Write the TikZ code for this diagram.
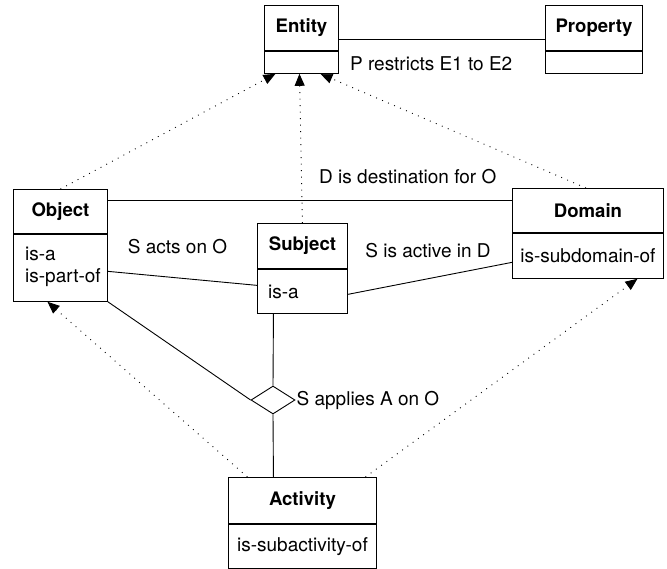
\documentclass[tikz,border=0pt]{standalone}
\usepackage{fontspec}
\setmainfont{TeX Gyre Heros}
\usetikzlibrary{arrows.meta,shapes.geometric}
\begin{document}
\begin{tikzpicture}[x=1pt,y=-1pt,
  font=\fontsize{19}{22}\selectfont,
  lw/.style={line width=0.9pt},
  titlepart/.style={draw, lw, inner sep=0pt, anchor=north west, minimum width=#1, font=\fontsize{18.6}{22}\selectfont\bfseries},
  attrpart/.style={draw, lw, anchor=north west, inner ysep=0pt, inner xsep=0pt, text width=#1, align=center},
  attrtext/.style={inner sep=0pt, anchor=north west, align=left},
  assoc/.style={lw},
  inherit/.style={lw, dash pattern=on 0.9pt off 5.6pt, -{Triangle[length=12pt,width=10pt]}},
  caption/.style={inner sep=0pt}
]
\useasboundingbox (0,0) rectangle (667,568);

% classes: title compartment + attribute compartment
\node[titlepart=74pt, minimum height=45pt] (entT) at (264,5) {Entity};
\node[attrpart=74pt, minimum height=22pt] (entA) at (entT.south west) {};

\node[titlepart=97pt, minimum height=45pt] (propT) at (545,5) {Property};
\node[attrpart=97pt, minimum height=22pt] (propA) at (propT.south west) {};

\node[titlepart=94pt, minimum height=44pt] (objT) at (13,189) {Object};
\node[attrpart=94pt, minimum height=67pt] (objA) at (objT.south west) {};
\node[attrtext] (objAttr) at ([xshift=12pt, yshift=-13pt]objA.north west) {is-a\\is-part-of};

\node[titlepart=90pt, minimum height=45pt] (subT) at (257,223) {Subject};
\node[attrpart=90pt, minimum height=44pt] (subA) at (subT.south west) {};
\node[attrtext, anchor=west] (subAttr) at ([xshift=11pt, yshift=-1pt]subA.west) {is-a};

\node[titlepart=151pt, minimum height=44pt] (domT) at (512,188) {Domain};
\node[attrpart=151pt, minimum height=45pt] (domA) at (domT.south west) {is-subdomain-of};

\node[titlepart=148pt, minimum height=46pt] (actT) at (228,477) {Activity};
\node[attrpart=148pt, minimum height=44pt] (actA) at (actT.south west) {is-subactivity-of};

% ternary relationship
\node[draw, lw, diamond, minimum width=44pt, minimum height=28pt, inner sep=0pt] (rel) at (273,400) {};

% associations
\draw[assoc] ([yshift=-11.5pt]entT.east) -- ([yshift=-11.5pt]propT.west);
\draw[assoc] ([yshift=11pt]objT.east) -- ([yshift=11pt]objT.east -| domT.west);
\draw[assoc] ([yshift=-3.5pt]objA.east) -- ([yshift=6pt]subA.west);
\draw[assoc] ([yshift=-3pt]subA.east) -- ([yshift=-6.5pt]domA.west);
\draw[assoc] (objA.south east) -- (rel.west);
\draw[assoc] ([xshift=-29pt]subA.south) -- (rel.north);
\draw[assoc] (rel.south) -- ([xshift=-29pt]actT.north);

% generalisations
\draw[inherit] (objT.north) -- ([xshift=-26pt]entA.south);
\draw[inherit] (subT.north) -- ([xshift=-2pt]entA.south);
\draw[inherit] ([xshift=-2pt]domT.north) -- ([xshift=19pt]entA.south);
\draw[inherit] ([xshift=-55pt]actT.north) -- ([xshift=-13pt]objA.south);
\draw[inherit] ([xshift=63pt]actT.north) -- ([xshift=49.5pt]domA.south);

% association captions
\node[caption, anchor=west] (capP) at ([xshift=11pt, yshift=-1pt]entA.east) {P restricts E1 to E2};
\node[caption, anchor=west] (capD) at (319,177) {D is destination for O};
\node[caption] (capSO) at (177.5,247) {S acts on O};
\node[caption] (capSD) at (428,251) {S is active in D};
\node[caption, anchor=west] (capSA) at ([xshift=1pt]rel.east) {S applies A on O};
\end{tikzpicture}
\end{document}
